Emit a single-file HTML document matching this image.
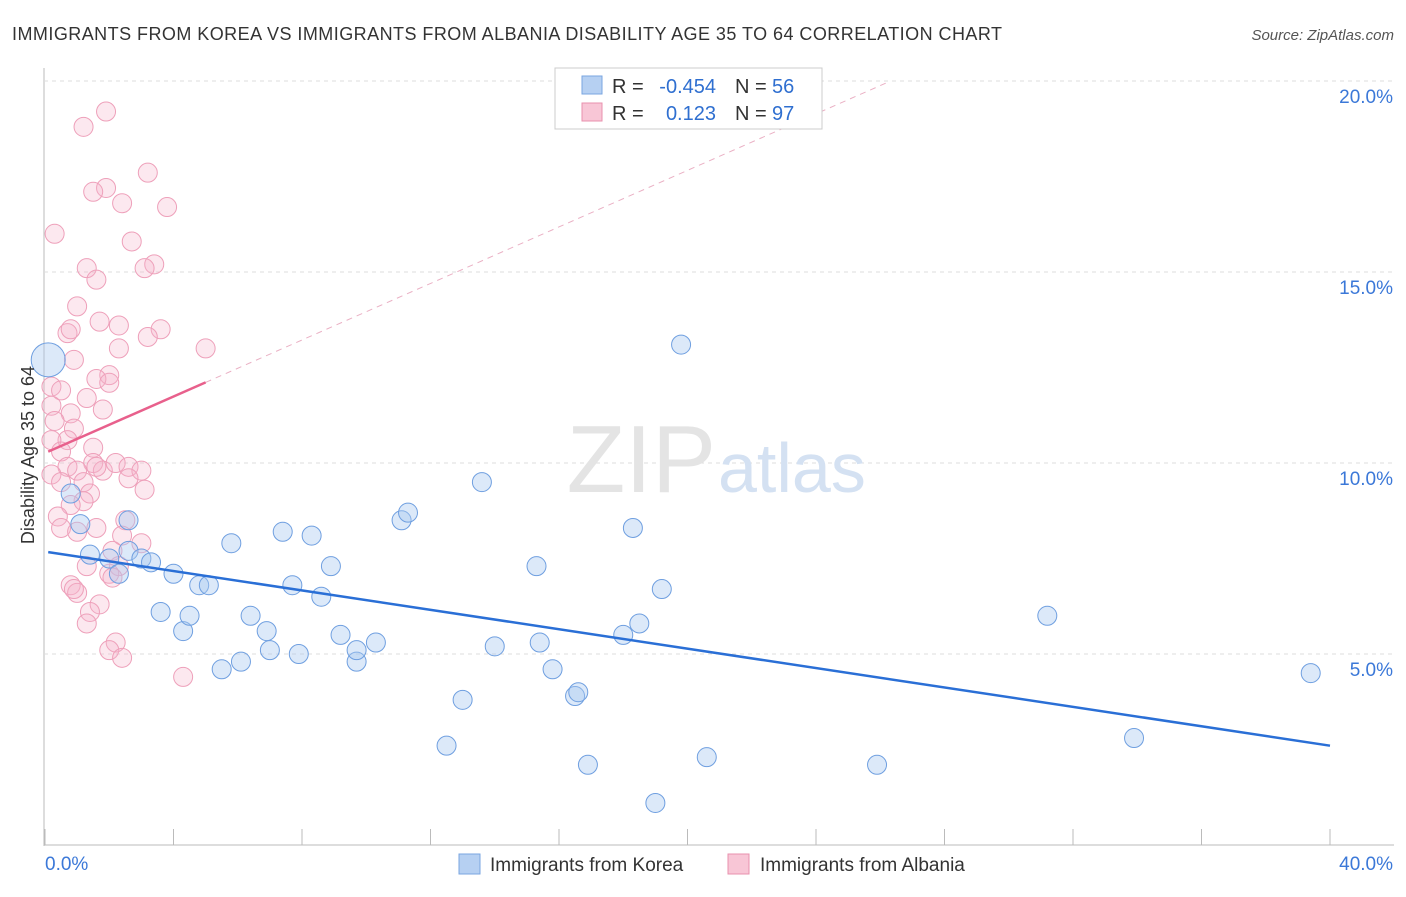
<!DOCTYPE html>
<html><head><meta charset="utf-8"><style>
body{margin:0;background:#fff;font-family:"Liberation Sans",sans-serif;}
svg text{font-family:"Liberation Sans",sans-serif;}
</style></head><body>
<svg width="1406" height="892">
<text x="12" y="40" font-size="18" fill="#333" textLength="990">IMMIGRANTS FROM KOREA VS IMMIGRANTS FROM ALBANIA DISABILITY AGE 35 TO 64 CORRELATION CHART</text>
<text x="1394" y="40" font-size="15" fill="#555" font-style="italic" text-anchor="end">Source: ZipAtlas.com</text>
<g id="grid"></g>
<text x="716" y="492" font-size="96" fill="#e4e4e4" text-anchor="end" font-family="Liberation Serif">ZIP</text>
<text x="718" y="492" font-size="70" fill="#d4e1f2">atlas</text>
<g id="marks"></g>
<text transform="translate(34,455) rotate(-90)" font-size="18" fill="#333" text-anchor="middle">Disability Age 35 to 64</text>
<g>
<rect x="555" y="68" width="267" height="61" fill="#fff" stroke="#ccc"/>
<rect x="582" y="76" width="20" height="18" fill="#b6d0f2" stroke="#7aa6e0"/>
<rect x="582" y="103" width="20" height="18" fill="#f8c6d6" stroke="#e890ae"/>
<text x="612" y="93" font-size="20" fill="#333">R =</text><text x="716" y="93" font-size="20" fill="#2f6fd0" text-anchor="end">-0.454</text>
<text x="735" y="93" font-size="20" fill="#333">N =</text><text x="772" y="93" font-size="20" fill="#2f6fd0">56</text>
<text x="612" y="120" font-size="20" fill="#333">R =</text><text x="716" y="120" font-size="20" fill="#2f6fd0" text-anchor="end">0.123</text>
<text x="735" y="120" font-size="20" fill="#333">N =</text><text x="772" y="120" font-size="20" fill="#2f6fd0">97</text>
</g>
<g>
<rect x="459" y="854" width="21" height="20" fill="#b6d0f2" stroke="#7aa6e0"/>
<text x="490" y="871" font-size="19" fill="#333">Immigrants from Korea</text>
<rect x="728" y="854" width="21" height="20" fill="#f8c6d6" stroke="#e890ae"/>
<text x="760" y="871" font-size="19" fill="#333">Immigrants from Albania</text>
</g>
</svg>
<script>
const yTicks=[5,10,15,20];
const yTickLabels=["5.0%","10.0%","15.0%","20.0%"];
const xTickLabels=["0.0%","40.0%"];
const koreaX=[0.1,0.8,1.1,1.4,2.0,2.6,2.6,2.3,3.0,3.3,4.0,3.6,4.3,4.5,4.8,5.1,5.5,5.8,6.1,6.4,6.9,7.0,7.4,7.7,7.9,8.3,8.6,8.9,9.2,9.7,9.7,10.3,11.1,11.3,12.5,13.0,13.6,14.0,15.3,15.4,15.8,16.5,16.6,16.9,18.0,18.3,18.5,19.0,19.2,19.8,20.6,25.9,31.2,33.9,39.4];
const koreaY=[12.7,9.2,8.4,7.6,7.5,8.5,7.7,7.1,7.5,7.4,7.1,6.1,5.6,6.0,6.8,6.8,4.6,7.9,4.8,6.0,5.6,5.1,8.2,6.8,5.0,8.1,6.5,7.3,5.5,4.8,5.1,5.3,8.5,8.7,2.6,3.8,9.5,5.2,7.3,5.3,4.6,3.9,4.0,2.1,5.5,8.3,5.8,1.1,6.7,13.1,2.3,2.1,6.0,2.8,4.5];
const albaniaX=[1.9,1.2,3.2,1.9,1.5,2.4,3.8,0.3,2.7,3.4,3.1,1.3,1.6,1.0,1.7,2.3,0.7,0.8,3.6,3.2,5.0,2.3,0.9,2.0,1.6,2.0,0.2,0.5,1.3,0.2,1.8,0.8,0.3,0.9,0.7,0.2,0.5,1.5,1.5,0.7,1.0,1.8,2.2,2.6,3.0,2.6,0.2,0.5,1.2,3.1,1.4,1.2,0.8,0.4,0.5,1.0,1.6,2.5,2.4,3.0,2.1,1.3,2.3,2.0,2.1,0.8,1.0,0.9,1.7,1.4,1.3,2.2,2.0,2.4,4.3,1.6];
const albaniaY=[19.2,18.8,17.6,17.2,17.1,16.8,16.7,16.0,15.8,15.2,15.1,15.1,14.8,14.1,13.7,13.6,13.4,13.5,13.5,13.3,13.0,13.0,12.7,12.3,12.2,12.1,12.0,11.9,11.7,11.5,11.4,11.3,11.1,10.9,10.6,10.6,10.3,10.4,10.0,9.9,9.8,9.8,10.0,9.9,9.8,9.6,9.7,9.5,9.5,9.3,9.2,9.0,8.9,8.6,8.3,8.2,8.3,8.5,8.1,7.9,7.7,7.3,7.3,7.1,7.0,6.8,6.6,6.7,6.3,6.1,5.8,5.3,5.1,4.9,4.4,9.9];
const koreaTrend=[7.68,-0.127];
const albaniaTrend=[10.26,0.37];
const sx=v=>45+v*(1285/40), sy=v=>845-v*38.2;
const NS="http://www.w3.org/2000/svg";
const grid=document.getElementById('grid'), marks=document.getElementById('marks');
function mk(p,tag,a){const e=document.createElementNS(NS,tag);for(const k in a)e.setAttribute(k,a[k]);p.appendChild(e);return e;}
mk(grid,'line',{x1:44,y1:68,x2:44,y2:846,stroke:'#bbb'});
mk(grid,'line',{x1:44,y1:845,x2:1394,y2:845,stroke:'#bbb'});
for(let i=0;i<=10;i++){const x=sx(i*4);const t=mk(grid,'line',{x1:x,y1:829,x2:x,y2:845,stroke:'#bbb'});}
yTicks.forEach((v,i)=>{
const l=mk(grid,'line',{x1:44,y1:sy(v),x2:1394,y2:sy(v),stroke:'#ddd','stroke-dasharray':'4,4'});


const t=mk(grid,'text',{x:1393,y:sy(v)+22,'font-size':19,fill:'#3b78d8','text-anchor':'end'});t.textContent=yTickLabels[i];


});
xTickLabels.forEach((s,i)=>{const t=mk(grid,'text',{x:i?1393:45,y:870,'font-size':19,fill:'#3b78d8','text-anchor':i?'end':'start'});t.textContent=s;

});
albaniaX.forEach((x,i)=>{const c=mk(marks,'circle',{cx:sx(x),cy:sy(albaniaY[i]),r:9.5,fill:'rgba(246,180,202,0.3)',stroke:'#eea0ba','stroke-width':1});

});
koreaX.forEach((x,i)=>{const c=mk(marks,'circle',{cx:sx(x),cy:sy(koreaY[i]),r:i==0?17:9.5,fill:'rgba(168,200,240,0.4)',stroke:'#6f9fe0','stroke-width':1});

});
const ya=x=>albaniaTrend[0]+albaniaTrend[1]*x, yk=x=>koreaTrend[0]+koreaTrend[1]*x;
let l=mk(marks,'line',{x1:sx(5),y1:sy(ya(5)),x2:sx(26.3),y2:sy(ya(26.3)),stroke:'#eab0c4','stroke-dasharray':'6,5'});


l=mk(marks,'line',{x1:sx(0.1),y1:sy(ya(0.1)),x2:sx(5),y2:sy(ya(5)),stroke:'#e8608c','stroke-width':2.5});


l=mk(marks,'line',{x1:sx(0.1),y1:sy(yk(0.1)),x2:sx(40),y2:sy(yk(40)),stroke:'#2a6fd6','stroke-width':2.5});


</script>
</body></html>
